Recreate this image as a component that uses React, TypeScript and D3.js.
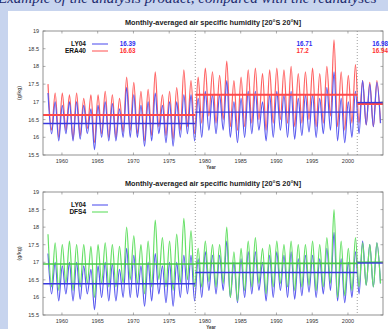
import React, { useEffect, useRef } from 'react';
import * as d3 from 'd3';

// years of the annual cycle (peak ~ Jan, trough ~ Jul)
const years = [
  1958, 1959, 1960, 1961, 1962, 1963, 1964, 1965, 1966, 1967, 1968, 1969, 1970, 1971, 1972, 1973,
  1974, 1975, 1976, 1977, 1978, 1979, 1980, 1981, 1982, 1983, 1984, 1985, 1986, 1987, 1988, 1989,
  1990, 1991, 1992, 1993, 1994, 1995, 1996, 1997, 1998, 1999, 2000, 2001, 2002, 2003, 2004,
];

const era40Peaks = [
  17.5, 17.25, 17.25, 17.2, 17.25, 17.1, 17.2, 17.2, 17.3, 17.2, 17.1, 17.7, 17.55, 17.3, 17.35, 17.85,
  17.2, 17.3, 17.4, 17.9, 17.6, 17.7, 17.95, 17.85, 17.75, 18.15, 17.6, 17.7, 17.9, 17.95, 17.8, 17.9,
  17.95, 17.9, 18.0, 17.8, 17.85, 17.95, 17.8, 18.0, 18.75, 17.85, 17.75, 18.05, 17.6, 17.55, 17.6,
];
const era40Troughs = [
  16.2, 16.0, 16.2, 15.95, 16.05, 16.25, 15.85, 16.1, 16.0, 16.0, 16.15, 16.2, 16.1, 15.9, 16.05, 16.3,
  16.05, 15.95, 16.2, 16.3, 16.1, 16.4, 16.6, 16.4, 16.5, 16.3, 16.2, 16.3, 16.4, 16.5, 16.2, 16.4,
  16.5, 16.4, 16.3, 16.4, 16.5, 16.3, 16.4, 16.6, 16.3, 16.2, 16.4, 16.4, 16.35, 16.3, 16.4,
];

const ly04Peaks = [
  17.25, 17.0, 16.9, 17.0, 17.0, 16.9, 16.8, 16.9, 17.0, 16.95, 16.8, 17.4, 17.2, 16.9, 17.0, 17.25,
  16.9, 17.0, 17.0, 17.2, 17.2, 17.1, 17.3, 17.2, 17.2, 17.6, 17.0, 17.1, 17.3, 17.3, 17.0, 17.2,
  17.3, 17.2, 17.3, 17.1, 17.2, 17.2, 17.1, 17.4, 17.85, 17.1, 17.0, 17.3, 17.6, 17.5, 17.55,
];
const ly04Troughs = [
  16.1, 15.9, 16.1, 15.9, 15.95, 16.1, 15.65, 16.0, 15.9, 15.9, 16.0, 16.0, 16.0, 15.75, 15.9, 16.1,
  15.85, 15.75, 16.0, 16.1, 15.9, 16.0, 16.2, 16.1, 16.2, 16.0, 15.85, 16.0, 16.1, 16.2, 15.9, 16.0,
  16.2, 16.0, 15.95, 16.05, 16.15, 16.0, 16.1, 16.2, 15.9, 15.85, 16.0, 16.1, 16.35, 16.3, 16.4,
];

const dfs4Peaks = [
  17.8, 17.55, 17.5, 17.6, 17.5, 17.5, 17.45, 17.5, 17.55, 17.5, 17.45, 18.0, 17.75, 17.5, 17.6, 18.2,
  17.7, 17.6, 17.8, 18.25, 17.9, 17.4, 17.6, 17.5, 17.5, 18.0, 17.3, 17.4, 17.6, 17.7, 17.4, 17.5,
  17.6, 17.5, 17.6, 17.5, 17.5, 17.6, 17.5, 17.7, 18.5, 17.6, 17.4, 17.7, 17.55, 17.5, 17.55,
];
const dfs4Troughs = [
  16.3, 16.2, 16.4, 16.2, 16.3, 16.4, 16.0, 16.4, 16.3, 16.3, 16.4, 16.5, 16.4, 16.1, 16.3, 16.5,
  16.3, 16.2, 16.4, 16.5, 16.3, 16.3, 16.45, 16.3, 16.4, 16.0, 15.9, 16.2, 16.3, 16.4, 16.1, 16.3,
  16.4, 16.3, 16.2, 16.3, 16.35, 16.2, 16.3, 16.4, 16.0, 16.05, 16.2, 16.3, 16.35, 16.3, 16.4,
];

// period splits (dotted lines) and the period means
const periodBreaks = [1978.65, 2001.3];
const ly04Means = [16.39, 16.71, 16.98];
const era40Means = [16.63, 17.2, 16.94];
const dfs4Means = [16.95, 16.97, 17.0];
const ly04Labels = ['16.39', '16.71', '16.98'];
const era40Labels = ['16.63', '17.2', '16.94'];
const labelYears = [1968.1, 1992.8, 2003.4];

const xTicks = [1960, 1965, 1970, 1975, 1980, 1985, 1990, 1995, 2000];
const yTicks = [15.5, 16, 16.5, 17, 17.5, 18, 18.5, 19];

const BLUE = '#5a5aef';
const RED = '#ff6262';
const GREEN = '#66e066';

const toSeries = (peaks: number[], troughs: number[]) => {
  const pts: [number, number][] = [];
  years.forEach((yr, i) => {
    pts.push([yr + 0.05, peaks[i]]);
    pts.push([yr + 0.55, troughs[i]]);
  });
  return pts;
};

const App: React.FC = () => {
  const svgRef = useRef<SVGSVGElement>(null);

  useEffect(() => {
    if (!svgRef.current) return;
    const svg = d3.select(svgRef.current);
    svg.selectAll('*').remove();

    const font = 'Liberation Sans, Arial, sans-serif';

    const defs = svg.append('defs');
    defs.append('filter').attr('id', 'soft')
      .append('feGaussianBlur').attr('stdDeviation', 0.35);

    // slide background
    svg.append('rect').attr('width', 388).attr('height', 329).attr('fill', '#c7d4ee');
    svg.append('text')
      .attr('x', -2).attr('y', 2.5)
      .attr('font-family', 'Liberation Serif, Times New Roman, serif')
      .attr('font-style', 'italic')
      .attr('font-size', 15)
      .attr('fill', '#1d2b6e')
      .text('Example of the analysis product, compared with the reanalyses');
    svg.append('rect').attr('x', 8).attr('y', 11).attr('width', 380).attr('height', 318).attr('fill', '#fff');

    const x = d3.scaleLinear().domain([1957.35, 2004.9]).range([43, 383]);
    const [x0, x1] = x.range();
    const bounds = [x.domain()[0], ...periodBreaks, x.domain()[1]];

    const panel = (
      top: number, bottom: number,
      series: { pts: [number, number][]; color: string; width: number }[],
      means: { vals: number[]; color: string; width: number }[],
      legend: { name: string; color: string }[],
      labels: { texts: string[]; color: string }[],
    ) => {
      const y = d3.scaleLinear().domain([15.5, 19]).range([bottom, top]);
      const g = svg.append('g');

      g.append('text')
        .attr('x', 213).attr('y', top - 6)
        .attr('text-anchor', 'middle')
        .attr('font-family', font).attr('font-weight', 'bold').attr('font-size', 7.3)
        .attr('fill', '#222')
        .text('Monthly-averaged air specific humidity [20\u00B0S 20\u00B0N]');

      g.append('text')
        .attr('transform', `translate(21,${(top + bottom) / 2}) rotate(-90)`)
        .attr('text-anchor', 'middle')
        .attr('font-family', font).attr('font-size', 5.5).attr('fill', '#333')
        .text('(g/kg)');

      g.append('text')
        .attr('x', 211).attr('y', bottom + 14)
        .attr('text-anchor', 'middle')
        .attr('font-family', font).attr('font-weight', 'bold').attr('font-size', 4.5).attr('fill', '#333')
        .text('Year');

      const clipId = `clip${top}`;
      g.append('clipPath').attr('id', clipId)
        .append('rect').attr('x', x0).attr('y', top).attr('width', x1 - x0).attr('height', bottom - top);
      const plot = g.append('g').attr('clip-path', `url(#${clipId})`)
        .append('g').attr('filter', 'url(#soft)');

      const line = d3.line<[number, number]>()
        .x(d => x(d[0]))
        .y(d => y(d[1]))
        .curve(d3.curveCatmullRom.alpha(0.5));

      series.forEach(s => {
        plot.append('path')
          .attr('d', line(s.pts))
          .attr('fill', 'none')
          .attr('stroke', s.color)
          .attr('stroke-width', s.width)
          .attr('stroke-linejoin', 'round');
      });

      means.forEach(m => {
        m.vals.forEach((v, i) => {
          plot.append('line')
            .attr('x1', x(bounds[i])).attr('x2', x(bounds[i + 1]))
            .attr('y1', y(v)).attr('y2', y(v))
            .attr('stroke', m.color).attr('stroke-width', m.width);
        });
      });

      periodBreaks.forEach(b => {
        g.append('line')
          .attr('x1', x(b)).attr('x2', x(b))
          .attr('y1', top).attr('y2', bottom)
          .attr('stroke', '#888').attr('stroke-width', 0.8)
          .attr('stroke-dasharray', '1,2');
      });

      // frame + ticks
      g.append('rect')
        .attr('x', x0).attr('y', top).attr('width', x1 - x0).attr('height', bottom - top)
        .attr('fill', 'none').attr('stroke', '#777').attr('stroke-width', 0.8);

      xTicks.forEach(t => {
        g.append('line').attr('x1', x(t)).attr('x2', x(t)).attr('y1', bottom).attr('y2', bottom - 2.5)
          .attr('stroke', '#777').attr('stroke-width', 0.6);
        g.append('line').attr('x1', x(t)).attr('x2', x(t)).attr('y1', top).attr('y2', top + 2.5)
          .attr('stroke', '#777').attr('stroke-width', 0.6);
        g.append('text')
          .attr('x', x(t)).attr('y', bottom + 7.5)
          .attr('text-anchor', 'middle')
          .attr('font-family', font).attr('font-size', 5.5).attr('fill', '#333')
          .text(String(t));
      });

      yTicks.forEach(t => {
        g.append('line').attr('x1', x0).attr('x2', x0 + 2.5).attr('y1', y(t)).attr('y2', y(t))
          .attr('stroke', '#777').attr('stroke-width', 0.6);
        g.append('line').attr('x1', x1).attr('x2', x1 - 2.5).attr('y1', y(t)).attr('y2', y(t))
          .attr('stroke', '#777').attr('stroke-width', 0.6);
        g.append('text')
          .attr('x', 39).attr('y', y(t) + 2)
          .attr('text-anchor', 'end')
          .attr('font-family', font).attr('font-size', 5.5).attr('fill', '#333')
          .text(String(t));
      });

      // legend
      legend.forEach((l, i) => {
        const ly = top + 13 + i * 7;
        g.append('text')
          .attr('x', 86).attr('y', ly + 2.3)
          .attr('text-anchor', 'end')
          .attr('font-family', font).attr('font-weight', 'bold').attr('font-size', 6.5).attr('fill', '#111')
          .text(l.name);
        g.append('line')
          .attr('x1', 92).attr('x2', 108).attr('y1', ly).attr('y2', ly)
          .attr('stroke', l.color).attr('stroke-width', 1.6).attr('stroke-opacity', 0.7);
      });

      labels.forEach((l, i) => {
        l.texts.forEach((t, k) => {
          g.append('text')
            .attr('x', x(labelYears[k])).attr('y', top + 15.3 + i * 7)
            .attr('font-family', font).attr('font-weight', 'bold').attr('font-size', 6.3).attr('fill', l.color)
            .text(t);
        });
      });
    };

    const ly04 = toSeries(ly04Peaks, ly04Troughs);

    panel(
      31, 155,
      [
        { pts: toSeries(era40Peaks, era40Troughs), color: RED, width: 1.2 },
        { pts: ly04, color: BLUE, width: 1.2 },
      ],
      [
        { vals: era40Means, color: '#ff4848', width: 2 },
        { vals: ly04Means, color: '#3838e0', width: 1.4 },
      ],
      [{ name: 'LY04', color: BLUE }, { name: 'ERA40', color: RED }],
      [{ texts: ly04Labels, color: '#2b2bf0' }, { texts: era40Labels, color: '#ff3030' }],
    );

    panel(
      192, 315,
      [
        { pts: ly04, color: BLUE, width: 1.2 },
        { pts: toSeries(dfs4Peaks, dfs4Troughs), color: GREEN, width: 1.2 },
      ],
      [
        { vals: dfs4Means, color: '#48c848', width: 1.6 },
        { vals: ly04Means, color: '#3838e0', width: 1.4 },
      ],
      [{ name: 'LY04', color: BLUE }, { name: 'DFS4', color: GREEN }],
      [],
    );
  }, []);

  return (
    <div style={{ position: 'fixed', left: 0, top: 0 }}>
      <svg ref={svgRef} width={388} height={329} style={{ display: 'block' }} />
    </div>
  );
};

export default App;
